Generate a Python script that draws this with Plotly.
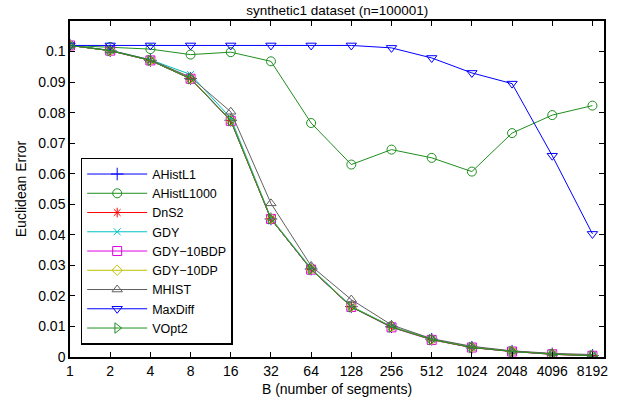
import plotly.graph_objects as go

B = [1, 2, 4, 8, 16, 32, 64, 128, 256, 512, 1024, 2048, 4096, 8192]
tick_vals = B
tick_text = [str(b) for b in B]
y_ticks = [0, 0.01, 0.02, 0.03, 0.04, 0.05, 0.06, 0.07, 0.08, 0.09, 0.1]
y_tick_text = ["0", "0.01", "0.02", "0.03", "0.04", "0.05", "0.06", "0.07", "0.08", "0.09", "0.1"]

ahistl1 = [0.102, 0.1003, 0.0971, 0.0912, 0.0775, 0.0452, 0.0288, 0.0165, 0.0099, 0.0058, 0.0032, 0.0019, 0.0010, 0.0005]
ahistl1000 = [0.102, 0.1015, 0.1008, 0.0990, 0.0998, 0.0968, 0.0766, 0.0630, 0.0679, 0.0652, 0.0607, 0.0733, 0.0792, 0.0823]
dns2 = [0.102, 0.1003, 0.0971, 0.0911, 0.0774, 0.0452, 0.0287, 0.0164, 0.0098, 0.0057, 0.0031, 0.0018, 0.0009, 0.0004]
gdy = [0.102, 0.1004, 0.0973, 0.0925, 0.0782, 0.0455, 0.0290, 0.0166, 0.0100, 0.0058, 0.0032, 0.0019, 0.0010, 0.0005]
gdy10bdp = [0.102, 0.1003, 0.0971, 0.0911, 0.0773, 0.0452, 0.0286, 0.0164, 0.0097, 0.0056, 0.0031, 0.0018, 0.0009, 0.0004]
gdy10dp = [0.102, 0.1003, 0.0971, 0.0912, 0.0775, 0.0453, 0.0288, 0.0165, 0.0099, 0.0057, 0.0032, 0.0019, 0.0010, 0.0005]
mhist = [0.102, 0.1004, 0.0973, 0.0916, 0.0803, 0.0503, 0.0298, 0.0188, 0.0105, 0.0060, 0.0035, 0.0020, 0.0012, 0.0008]
maxdiff = [0.102, 0.102, 0.102, 0.102, 0.102, 0.102, 0.102, 0.1020, 0.1012, 0.0979, 0.0930, 0.0895, 0.0659, 0.0403]
vopt2 = [0.102, 0.1003, 0.0971, 0.0911, 0.0774, 0.0452, 0.0287, 0.0164, 0.0098, 0.0057, 0.0031, 0.0018, 0.0009, 0.0004]

series = [
    ("AHistL1", ahistl1, "#0000ff", "cross-thin-open", 9),
    ("AHistL1000", ahistl1000, "#1f8f1f", "circle-open", 9),
    ("DnS2", dns2, "#ff0000", "asterisk-open", 8),
    ("GDY", gdy, "#00c0c0", "x-thin-open", 7),
    ("GDY\u221210BDP", gdy10bdp, "#e000e0", "square-open", 9),
    ("GDY\u221210DP", gdy10dp, "#c0c000", "diamond-open", 8),
    ("MHIST", mhist, "#606060", "triangle-up-open", 9),
    ("MaxDiff", maxdiff, "#0000ff", "triangle-down-open", 9),
    ("VOpt2", vopt2, "#1f8f1f", "triangle-right-open", 9),
]

fig = go.Figure()
for name, vals, color, sym, size in series:
    fig.add_trace(go.Scatter(
        x=B, y=vals, name=name, mode="lines+markers",
        line=dict(color=color, width=1),
        marker=dict(symbol=sym, size=size, color=color, line=dict(color=color, width=1)),
    ))

FONT = "Liberation Sans, Arial"
axis_common = dict(
    showline=True, linecolor="black", linewidth=1.5, mirror="ticks",
    ticks="inside", ticklen=5, tickcolor="black", showgrid=False, zeroline=False,
    tickfont=dict(family=FONT, size=14, color="black"), automargin=False,
)

fig.update_layout(
    width=621, height=401,
    margin=dict(l=70, r=17, t=21, b=44),
    paper_bgcolor="white", plot_bgcolor="white",
    title=dict(text="synthetic1 dataset (n=100001)", x=0.543, xanchor="center", y=0.975, yanchor="middle",
               font=dict(family=FONT, size=13.5, color="black")),
    font=dict(family=FONT, size=14, color="black"),
    xaxis=dict(type="log", range=[0, 4], tickvals=tick_vals, ticktext=tick_text,
               title=dict(text="B (number of segments)", standoff=7, font=dict(size=14)), **axis_common),
    yaxis=dict(range=[0, 0.11], tickvals=y_ticks, ticktext=y_tick_text,
               title=dict(text="Euclidean Error", standoff=8, font=dict(size=14)), **axis_common),
    legend=dict(x=0.02, y=0.036, xanchor="left", yanchor="bottom", bgcolor="white",
                bordercolor="black", borderwidth=1.5, tracegroupgap=0,
                font=dict(family=FONT, size=12.5, color="black"),
                itemwidth=60),
    showlegend=True,
)

fig.write_html("out.html", config={"displayModeBar": False},
               post_script="document.body.style.margin='0';document.body.style.padding='0';")
